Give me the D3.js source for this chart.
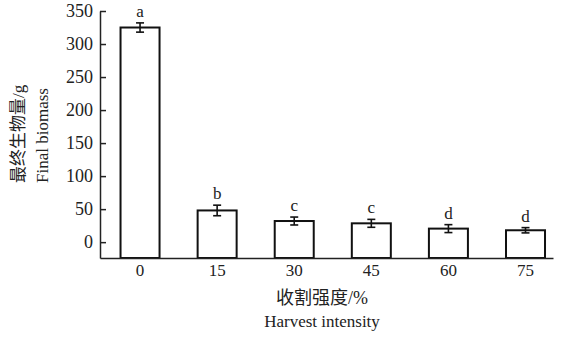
<!DOCTYPE html>
<html>
<head>
<meta charset="utf-8">
<script src="https://cdn.jsdelivr.net/npm/d3@7"></script>
<style>
  body { margin: 0; background: #fff; }
</style>
</head>
<body>
<div id="chart"></div>
<script>
const width = 562,
height = 337,
margin = { top: 11, bottom: 79, left: 100, right: 9 },
serif = '"Liberation Serif", "Noto Sans CJK SC", serif';

// data
const intensities = ["0", "15", "30", "45", "60", "75"];
const biomass = [325, 48, 32, 28.5, 20.5, 18];
const errors = [7, 8, 6, 6, 6, 4];
const letters = ["a", "b", "c", "c", "d", "d"];
const yTicks = [0, 50, 100, 150, 200, 250, 300, 350];

const data = intensities.map((k, i) => ({ k: k, v: biomass[i], e: errors[i], l: letters[i] }));

const svg = d3.select("#chart").
append("svg").
attr("width", width).
attr("height", height).
style("font-family", serif);

const xScale = d3.scaleBand().
domain(intensities).
range([margin.left, width - margin.right]).
paddingInner(0.494).
paddingOuter(0.185).
align(0.72);

const yScale = d3.scaleLinear().
domain([-24, 350]).
range([height - margin.bottom, margin.top]);

const y0 = yScale(-24);

// bars
svg.selectAll("rect.bar").
data(data).
enter().
append("rect").
attr("class", "bar").
attr("x", d => xScale(d.k)).
attr("y", d => yScale(d.v)).
attr("width", xScale.bandwidth()).
attr("height", d => y0 - yScale(d.v)).
attr("fill", "white").
attr("stroke", "#111").
attr("stroke-width", 2);

// error bars
const err = svg.selectAll("g.err").
data(data).
enter().
append("g").
attr("class", "err").
attr("stroke", "#111").
attr("stroke-width", 1.6);

err.append("line").
attr("x1", d => xScale(d.k) + xScale.bandwidth() / 2).
attr("x2", d => xScale(d.k) + xScale.bandwidth() / 2).
attr("y1", d => yScale(d.v + d.e)).
attr("y2", d => yScale(d.v - d.e));

[1, -1].forEach(s => {
  err.append("line").
  attr("x1", d => xScale(d.k) + xScale.bandwidth() / 2 - 4).
  attr("x2", d => xScale(d.k) + xScale.bandwidth() / 2 + 4).
  attr("y1", d => yScale(d.v + s * d.e)).
  attr("y2", d => yScale(d.v + s * d.e));
});

// significance letters
svg.selectAll("text.sig").
data(data).
enter().
append("text").
attr("class", "sig").
attr("x", d => xScale(d.k) + xScale.bandwidth() / 2).
attr("y", d => yScale(d.v + d.e) - 6).
attr("text-anchor", "middle").
style("font-size", "17px").
style("fill", "#222").
text(d => d.l);

// y axis, ticks pointing inward
const yAxis = svg.append("g").
attr("transform", `translate(${margin.left},0)`).
call(d3.axisRight(yScale).tickValues(yTicks).tickSize(6).tickSizeOuter(0));
yAxis.attr("font-family", serif);
yAxis.select(".domain").attr("stroke-width", 1.5).attr("stroke", "#222");
yAxis.selectAll(".tick line").attr("stroke-width", 1.5).attr("stroke", "#222");
yAxis.selectAll(".tick text").
attr("x", -7).
attr("text-anchor", "end").
style("font-family", serif).
style("font-size", "18px").
style("fill", "#222");

// x axis, no ticks
const xAxis = svg.append("g").
attr("transform", `translate(0,${y0})`).
call(d3.axisBottom(xScale).tickSize(0).tickPadding(6));
xAxis.attr("font-family", serif);
xAxis.select(".domain").attr("stroke-width", 1.5).attr("stroke", "#222");
xAxis.selectAll(".tick text").
style("font-family", serif).
style("font-size", "17px").
style("fill", "#222");

// axis titles
svg.append("text").
attr("x", 322).
attr("y", 304).
attr("text-anchor", "middle").
style("font-size", "18px").
style("fill", "#222").
text("收割强度/%");

svg.append("text").
attr("x", 322).
attr("y", 327).
attr("text-anchor", "middle").
style("font-size", "17px").
style("fill", "#222").
text("Harvest intensity");

svg.append("text").
attr("transform", "translate(24,183) rotate(-90)").
attr("text-anchor", "start").
style("font-size", "17px").
style("fill", "#222").
text("最终生物量/g");

svg.append("text").
attr("transform", "translate(48,183) rotate(-90)").
attr("text-anchor", "start").
style("font-size", "17px").
style("fill", "#222").
text("Final biomass");
</script>
</body>
</html>
